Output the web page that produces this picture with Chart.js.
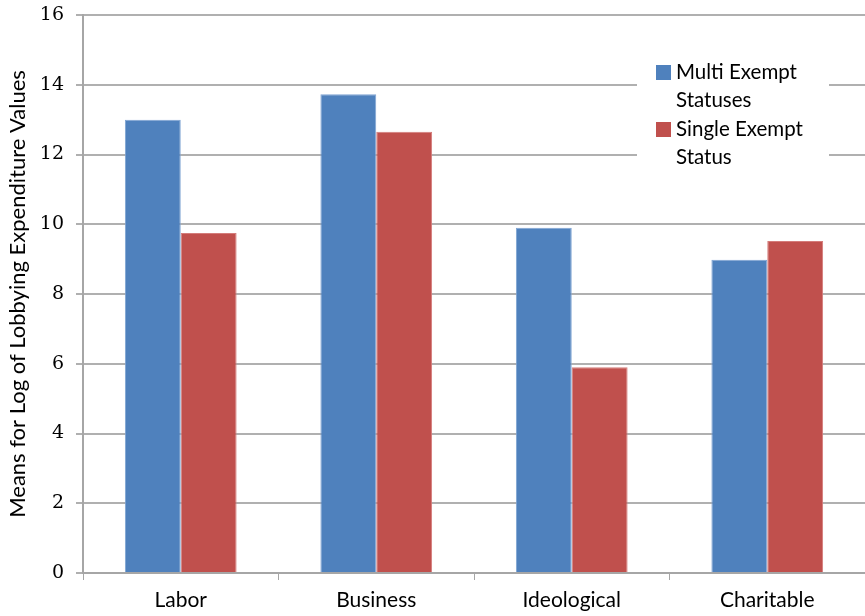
<!DOCTYPE html>
<html><head><meta charset="utf-8">
<script src="https://cdn.jsdelivr.net/npm/chart.js@4/dist/chart.umd.min.js"></script>
<style>html,body{margin:0;padding:0;background:#fff}#wrap{width:865px;height:616px}</style>
</head><body><div id="wrap"><canvas id="c" width="865" height="616"></canvas></div>
<script>
const categories = ["Labor", "Business", "Ideological", "Charitable"];
const multiValues = [13.0, 13.73, 9.9, 8.98];
const singleValues = [9.75, 12.65, 5.9, 9.52];
const seriesNames = [["Multi Exempt", "Statuses"], ["Single Exempt", "Status"]];
const seriesColors = ["#4F81BD", "#C0504D"];
const yTitle = "Means for Log of Lobbying Expenditure Values";

const legendBox = {
  id: 'legendBox',
  afterDraw(chart) {
    const ctx = chart.ctx;
    ctx.save();
    ctx.fillStyle = '#fff';
    ctx.fillRect(637, 50, 192, 128);
    ctx.font = '20.5px Lato';
    ctx.textBaseline = 'middle';
    ctx.textAlign = 'left';
    const ys = [72, 129];
    seriesNames.forEach((lines, i) => {
      ctx.fillStyle = seriesColors[i];
      ctx.fillRect(656, ys[i] - 7, 15, 15);
      ctx.fillStyle = '#000';
      lines.forEach((t, j) => ctx.fillText(t, 676, ys[i] + j * 28));
    });
    ctx.restore();
  }
};

new Chart(document.getElementById('c'), {
  type: 'bar',
  data: {
    labels: categories,
    datasets: [
      { label: seriesNames[0].join(' '), data: multiValues, backgroundColor: seriesColors[0], borderColor: '#7fa4d3', borderWidth: 1 },
      { label: seriesNames[1].join(' '), data: singleValues, backgroundColor: seriesColors[1], borderColor: '#d47c7a', borderWidth: 1 }
    ]
  },
  options: {
    responsive: false,
    animation: false,
    layout: { padding: { top: 15, right: 0, bottom: 0, left: 0 } },
    datasets: { bar: { barPercentage: 1.0, categoryPercentage: 2 / 3.5 } },
    plugins: { legend: { display: false }, tooltip: { enabled: false } },
    scales: {
      x: {
        afterFit(s) { s.height = 43; s.paddingLeft = 0; s.paddingRight = 0; },
        grid: { drawOnChartArea: false, drawTicks: true, tickLength: 7, color: '#a6a6a6', lineWidth: 1 },
        border: { color: '#a6a6a6', width: 2 },
        ticks: { color: '#000', font: { family: 'Lato', size: 21 }, padding: 8 }
      },
      y: {
        min: 0, max: 16,
        afterFit(s) { s.width = 83; s.paddingTop = 0; s.paddingBottom = 0; },
        ticks: { stepSize: 2, color: '#000', font: { family: 'DejaVu Serif', size: 19 }, padding: 12 },
        grid: { color: '#b0b0b0', lineWidth: 2, tickLength: 7 },
        border: { color: '#a6a6a6', width: 2 },
        title: { display: true, text: yTitle, color: '#000', font: { family: 'Lato', size: 22 }, padding: { top: 5, bottom: 0 } }
      }
    }
  },
  plugins: [legendBox]
});
</script></body></html>
